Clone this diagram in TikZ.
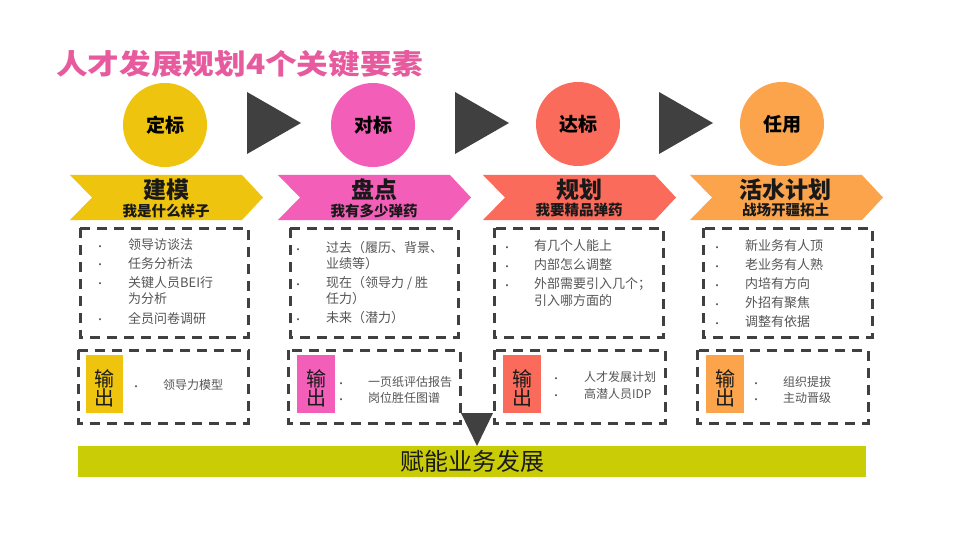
\documentclass[tikz,border=0pt]{standalone}
\usepackage{fontspec}
\setmainfont{Noto Sans CJK SC}
\newfontfamily\cjk{Noto Sans CJK SC}
\usetikzlibrary{calc}
\definecolor{cy}{HTML}{EFC40F}
\definecolor{cp}{HTML}{F35EB9}
\definecolor{cr}{HTML}{FA6B5B}
\definecolor{co}{HTML}{FBA44B}
\definecolor{cbar}{HTML}{CACC05}
\definecolor{dk}{HTML}{404040}
\definecolor{tgray}{HTML}{555555}
\definecolor{ttl}{HTML}{E75B9E}
\tikzset{
  circ/.style={circle, minimum size=84pt, inner sep=0pt, text=black, font=\bfseries\fontsize{19}{19}\selectfont},
  tri/.style={fill=dk},
  bhead/.style={inner sep=0pt, text=black!90, font=\bfseries\fontsize{23}{23}\selectfont},
  bsub/.style={inner sep=0pt, text=black!90, font=\bfseries\fontsize{14.5}{14.5}\selectfont},
  dbox/.style={draw=dk, line width=3pt, dash pattern=on 10pt off 7pt},
  lbl/.style={inner sep=0pt, align=center, text=black!90, font=\fontsize{20}{19}\selectfont},
  txt/.style={inner sep=0pt, anchor=west, text=tgray, font=\fontsize{13}{13}\selectfont},
  otxt/.style={inner sep=0pt, anchor=west, text=tgray, font=\fontsize{12}{12}\selectfont},
  bul/.style={inner sep=0pt, yshift=-3pt, text=tgray, font=\fontsize{10}{10}\selectfont},
}
\newcommand\chev[2]{\fill[#2] (#1,175) -- ++(172,0) -- ++(21,22.5) -- ++(-21,22.5) -- ++(-172,0) -- ++(22,-22.5) -- cycle;}
\begin{document}
\begin{tikzpicture}[x=1pt,y=-1pt]
\useasboundingbox (0,0) rectangle (960,540);
\fill[white] (0,0) rectangle (960,540);

% title
\node[inner sep=0pt, anchor=west, text=ttl, font=\bfseries\fontsize{28}{28}\selectfont] (title) at (56,64) {\scalebox{1.13}[1]{人才发展规划4个关键要素}};

% circles
\node[circ, fill=cy] (c1) at (165,125) {定标};
\node[circ, fill=cp] (c2) at (373,125) {对标};
\node[circ, fill=cr] (c3) at (578,124) {达标};
\node[circ, fill=co] (c4) at (782,124) {任用};

% triangles
\fill[tri] (247,92) -- (301,123) -- (247,154) -- cycle;
\fill[tri] (455,92) -- (509,123) -- (455,154) -- cycle;
\fill[tri] (659,92) -- (713,123) -- (659,154) -- cycle;

% banners
\chev{70}{cy}
\chev{278}{cp}
\chev{483}{cr}
\chev{690}{co}
\node[bhead] (h1) at (166,190) {建模};
\node[bsub] (s1) at (166,210.5) {我是什么样子};
\node[bhead] (h2) at (374,190) {盘点};
\node[bsub] (s2) at (374,210.5) {我有多少弹药};
\node[bhead] (h3) at (579,190) {规划};
\node[bsub] (s3) at (579,210.5) {我要精品弹药};
\node[bhead] (h4) at (785.5,190) {活水计划};
\node[bsub] (s4) at (785.5,210.5) {战场开疆拓土};

% content boxes
\draw[dbox] (80,228) rectangle (248,337);
\draw[dbox] (290,228) rectangle (458,337);
\draw[dbox] (494,228) rectangle (663,337);
\draw[dbox] (703,228) rectangle (872,337);

% column 1
\node[bul] (b11) at (100,245) {•};
\node[txt] (t11) at (128,245) {领导访谈法};
\node[bul] (b12) at (100,263.5) {•};
\node[txt] (t12) at (128,263.5) {任务分析法};
\node[bul] (b13) at (100,282.5) {•};
\node[txt] (t13) at (128,282.5) {关键人员BEI行};
\node[txt] (t13b) at (128,299) {为分析};
\node[bul] (b14) at (100,318.5) {•};
\node[txt] (t14) at (128,318.5) {全员问卷调研};

% column 2
\node[bul] (b21) at (298,248) {•};
\node[txt] (t21) at (326,248) {过去（履历、背景、};
\node[txt] (t21b) at (326,264) {业绩等）};
\node[bul] (b22) at (298,283) {•};
\node[txt] (t22) at (326,283) {现在（领导力 / 胜};
\node[txt] (t22b) at (326,299) {任力）};
\node[bul] (b23) at (298,318) {•};
\node[txt] (t23) at (326,318) {未来（潜力）};

% column 3
\node[bul] (b31) at (507,246) {•};
\node[txt] (t31) at (534,246) {有几个人能上};
\node[bul] (b32) at (507,265) {•};
\node[txt] (t32) at (534,265) {内部怎么调整};
\node[bul] (b33) at (507,284) {•};
\node[txt] (t33) at (534,284) {外部需要引入几个；};
\node[txt] (t33b) at (534,300.5) {引入哪方面的};

% column 4
\node[bul] (b41) at (717,246) {•};
\node[txt] (t41) at (745,246) {新业务有人顶};
\node[bul] (b42) at (717,265) {•};
\node[txt] (t42) at (745,265) {老业务有人熟};
\node[bul] (b43) at (717,284) {•};
\node[txt] (t43) at (745,284) {内培有方向};
\node[bul] (b44) at (717,303) {•};
\node[txt] (t44) at (745,303) {外招有聚焦};
\node[bul] (b45) at (717,322) {•};
\node[txt] (t45) at (745,322) {调整有依据};

% output boxes
\draw[dbox] (78,350) rectangle (248,423);
\draw[dbox] (288,350) rectangle (460,423);
\draw[dbox] (494,350) rectangle (665,423);
\draw[dbox] (697,350) rectangle (868,423);

\fill[cy] (86,355) rectangle (123,413);
\fill[cp] (297,355) rectangle (335,413);
\fill[cr] (503,355) rectangle (541,413);
\fill[co] (706,355) rectangle (744,413);
\node[lbl] (o1) at (104.5,388) {输\\出};
\node[lbl] (o2) at (316,388) {输\\出};
\node[lbl] (o3) at (522,388) {输\\出};
\node[lbl] (o4) at (725,388) {输\\出};

\node[bul] (ob11) at (136,385) {•};
\node[otxt] (ot11) at (163,385) {领导力模型};
\node[bul] (ob21) at (341,382) {•};
\node[otxt] (ot21) at (368,382) {一页纸评估报告};
\node[bul] (ob22) at (341,398) {•};
\node[otxt] (ot22) at (368,398) {岗位胜任图谱};
\node[bul] (ob31) at (556,377) {•};
\node[otxt] (ot31) at (584,377) {人才发展计划};
\node[bul] (ob32) at (556,394) {•};
\node[otxt] (ot32) at (584,394) {高潜人员IDP};
\node[bul] (ob41) at (756,382) {•};
\node[otxt] (ot41) at (783,382) {组织提拔};
\node[bul] (ob42) at (756,398) {•};
\node[otxt] (ot42) at (783,398) {主动晋级};

% bottom bar and arrow
\node[fill=cbar, minimum width=788pt, minimum height=31pt, inner sep=0pt, text=black!90, font=\fontsize{24}{24}\selectfont] (bar) at (472,461.5) {赋能业务发展};
\fill[tri] (461,413) -- (493,413) -- (477,446) -- cycle;
\end{tikzpicture}
\end{document}
